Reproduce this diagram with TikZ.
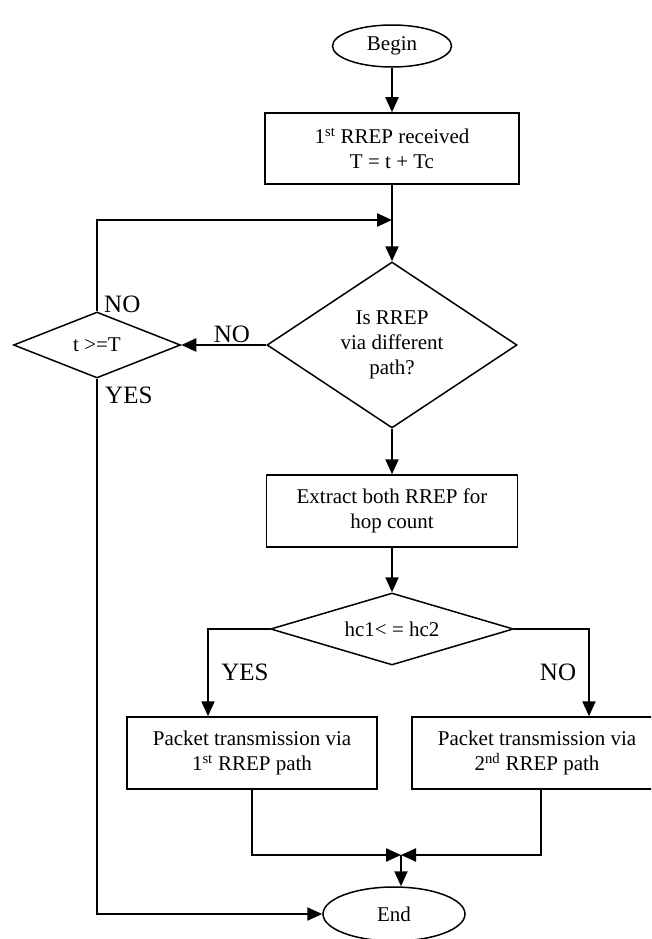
\documentclass[tikz,border=0pt]{standalone}
\usepackage{fontspec}
\setmainfont{Liberation Serif}
\usetikzlibrary{shapes.geometric,arrows.meta}
\begin{document}
\begin{tikzpicture}[x=1pt,y=-1pt,
  txt/.style={font=\fontsize{21}{25}\selectfont},
  lbl/.style={font=\fontsize{25}{28}\selectfont, inner sep=0pt},
  shp/.style={draw, line width=1.5pt, txt, inner sep=0pt},
  box/.style={shp, rectangle, align=center},
  dia/.style={shp, diamond, align=center},
  oval/.style={shp, ellipse},
  conn/.style={line width=2.2pt},
  arr/.style={conn, -{Triangle[length=15pt,width=13pt]}}]
\useasboundingbox (0,0) rectangle (651,939);
\clip (0,0) rectangle (651,939);
% nodes
\node[oval, minimum width=119pt, minimum height=42pt] (begin) at (392,46) {Begin};
\node[box, minimum width=254pt, minimum height=71pt] (b1) at (392,148.5)
  {1\textsuperscript{st} RREP received\\T = t + Tc};
\node[dia, shape aspect=1.5, minimum width=250pt, minimum height=166pt] (d1) at (392,345)
  {Is RREP\\via different\\path?};
\node[dia, shape aspect=2.5, minimum width=167pt, minimum height=66pt] (d2) at (97,345)
  {t >=T};
\node[box, minimum width=251pt, minimum height=72pt] (b2) at (392,511)
  {Extract both RREP for\\hop count};
\node[dia, shape aspect=3.4, minimum width=243pt, minimum height=72pt] (d3) at (392,629)
  {hc1< = hc2};
\node[box, minimum width=250pt, minimum height=72pt] (b3) at (252,753)
  {Packet transmission via\\1\textsuperscript{st} RREP path};
\node[box, minimum width=250pt, minimum height=72pt] (b4) at (537,753)
  {Packet transmission via\\2\textsuperscript{nd} RREP path};
\node[oval, minimum width=142pt, minimum height=54pt] (end) at (394,914) {End};
\coordinate (m) at (392,220);
\coordinate (j) at (401,855);
% labels
\node[lbl, anchor=west] (no1) at (104,304) {NO};
\node[lbl, anchor=west] (yes1) at (105,395) {YES};
\node[lbl] (no2) at (232,334) {NO};
\node[lbl] (yes2) at (245,672) {YES};
\node[lbl] (no3) at (558,672) {NO};
% connectors
\draw[arr] (begin.south) -- (b1.north);
\draw[arr] (b1.south) -- (d1.north);
\draw[arr] (d2.north) |- (m);
\draw[arr] (d1.west) -- (d2.east);
\draw[arr] (d1.south) -- (b2.north);
\draw[arr] (b2.south) -- (d3.north);
\draw[arr] (d3.west) -| ([xshift=-44pt]b3.north);
\draw[arr] (d3.east) -| ([xshift=52pt]b4.north);
\draw[arr] (b3.south) |- (j);
\draw[arr] ([xshift=4pt]b4.south) |- (j);
\draw[arr] (j) -- (j |- end.north);
\draw[arr] (d2.south) |- (end.west);
\end{tikzpicture}
\end{document}
